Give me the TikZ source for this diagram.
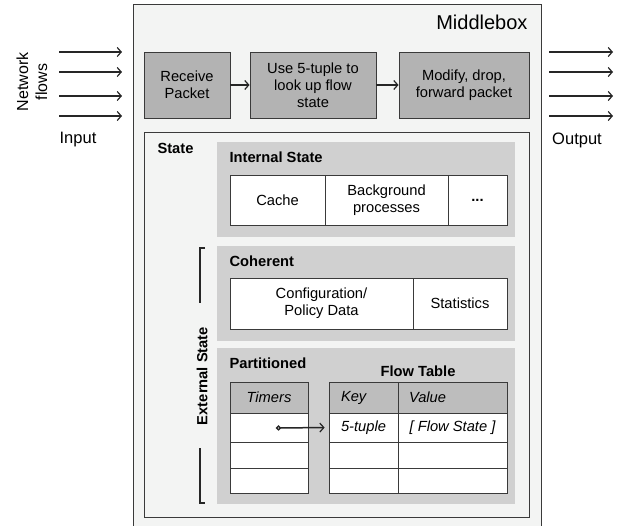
\documentclass[tikz,border=0pt]{standalone}
\usepackage{fontspec}
\setmainfont{Liberation Sans}
\usepackage{xcolor}
\usepackage{tikz}
\usetikzlibrary{arrows.meta}

\definecolor{boxfill}{HTML}{F3F4F3}
\definecolor{procfill}{HTML}{B3B3B3}
\definecolor{panelfill}{HTML}{D0D0D0}
\definecolor{headfill}{HTML}{BDBDBD}
\definecolor{edge}{HTML}{3A3A3A}

\newcommand{\bodysize}{\fontsize{14.7}{17}\selectfont}

\tikzset{
    procbox/.style={draw=edge, fill=procfill, line width=0.9pt, align=center, inner sep=0pt, minimum height=66pt},
    panel/.style={fill=panelfill},
    cell/.style={draw=edge, fill=white, line width=0.8pt, inner sep=0pt, align=center},
    headcell/.style={cell, fill=headfill, font=\bodysize\itshape},
    flowline/.style={-{Straight Barb[length=4pt,width=9pt,line width=1.2pt]}, line width=1.4pt, draw=black!85},
    title/.style={font=\bodysize\bfseries, anchor=west}
}

\begin{document}
\begin{tikzpicture}[x=1pt, y=-1pt, font=\bodysize]
    \useasboundingbox (0,0) rectangle (617,526);

    % Middlebox frame (runs off the bottom)
    \fill[boxfill] (133,4) rectangle (541,526);
    \draw[edge, line width=0.9pt] (133,526) -- (133,4) -- (541,4) -- (541,526);
    \node[anchor=east, font=\fontsize{20}{24}\selectfont] (mbox) at (531,22) {Middlebox};

    % Packet pipeline
    \node[procbox, minimum width=86pt]  (recv)   at (187,85) {Receive\\Packet};
    \node[procbox, minimum width=126pt] (lookup) at (313,85) {Use 5-tuple to\\look up flow\\state};
    \node[procbox, minimum width=130pt] (modify) at (464,85) {Modify, drop,\\forward packet};
    \draw[flowline] (recv) -- (lookup);
    \draw[flowline] (lookup) -- (modify);

    % Input and output flows
    \foreach \y [count=\i] in {52,72,96,116} {
        \coordinate (in\i)  at (59,\y);
        \coordinate (inE\i) at (122,\y);
        \coordinate (out\i)  at (549,\y);
        \coordinate (outE\i) at (613,\y);
        \draw[flowline] (in\i) -- (inE\i);
        \draw[flowline] (out\i) -- (outE\i);
    }
    \node[rotate=90, align=center, font=\fontsize{16}{19}\selectfont] (flows) at (32,82) {Network\\flows};
    \node[font=\fontsize{16.5}{19}\selectfont] (input)  at (78,140)  {Input};
    \node[font=\fontsize{16.5}{19}\selectfont] (output) at (577,140) {Output};

    % State box
    \filldraw[fill=boxfill, draw=edge, line width=0.9pt] (144,132) rectangle (529,517);
    \node[title] (state) at (154,148) {State};

    % Internal state
    \fill[panel] (217,142) rectangle (515,237);
    \node[title] (internal) at (226,157) {Internal State};
    \node[cell, minimum width=95pt,  minimum height=50pt] (cache) at (277.5,200) {Cache};
    \node[cell, minimum width=123pt, minimum height=50pt] (bgproc) at (386.5,200) {Background\\processes};
    \node[cell, minimum width=59pt,  minimum height=50pt, font=\bodysize\bfseries] (more) at (477.5,200) {...};

    % Coherent
    \fill[panel] (217,246) rectangle (515,341);
    \node[title] (coherent) at (226,261) {Coherent};
    \node[cell, minimum width=183pt, minimum height=51pt] (config) at (321.5,303.5) {Configuration/\\Policy Data};
    \node[cell, minimum width=94pt,  minimum height=51pt] (stats) at (460,303.5) {Statistics};

    % Partitioned
    \fill[panel] (217,348) rectangle (515,504);
    \node[title] (partitioned) at (226,363) {Partitioned};
    \node[font=\bodysize\bfseries] (flowtab) at (418,371) {Flow Table};

    % Timers column
    \node[headcell, minimum width=78pt, minimum height=31pt] (timers) at (269,397.5) {Timers};
    \node[cell, minimum width=78pt, minimum height=29pt] (tm1) at (269,427.5) {};
    \node[cell, minimum width=78pt, minimum height=26pt] (tm2) at (269,455) {};
    \node[cell, minimum width=78pt, minimum height=25pt] (tm3) at (269,480.5) {};

    % Flow table
    \node[headcell, minimum width=69pt,  minimum height=31pt, text width=45pt, align=left] (key) at (363.5,397.5) {Key};
    \node[headcell, minimum width=109pt, minimum height=31pt, text width=87pt, align=left] (value) at (452.5,397.5) {Value};
    \node[cell, font=\bodysize\itshape, minimum width=69pt,  minimum height=29pt] (key1) at (363.5,427.5) {5-tuple};
    \node[cell, font=\bodysize\itshape, minimum width=109pt, minimum height=29pt] (val1) at (452.5,427.5) {[ Flow State ]};
    \node[cell, minimum width=69pt,  minimum height=26pt] (key2) at (363.5,455) {};
    \node[cell, minimum width=109pt, minimum height=26pt] (val2) at (452.5,455) {};
    \node[cell, minimum width=69pt,  minimum height=25pt] (key3) at (363.5,480.5) {};
    \node[cell, minimum width=109pt, minimum height=25pt] (val3) at (452.5,480.5) {};

    % Timer points at flow entry
    \coordinate (tdot) at (276,428);
    \draw[{Circle[open,length=5pt,width=5pt,line width=1.4pt]}-{Straight Barb[length=4pt,width=9pt,line width=1.2pt]}, line width=1.5pt, black!85, shorten >=4pt] (tdot) -- (key1.west);

    % External state bracket
    \node[rotate=90, font=\bodysize\bfseries] (external) at (202,376) {External State};
    \draw[line width=1.4pt, black!85] (205,248) -- (200,248) -- (200,303);
    \draw[line width=1.4pt, black!85] (200,448) -- (200,503) -- (205,503);
\end{tikzpicture}
\end{document}
